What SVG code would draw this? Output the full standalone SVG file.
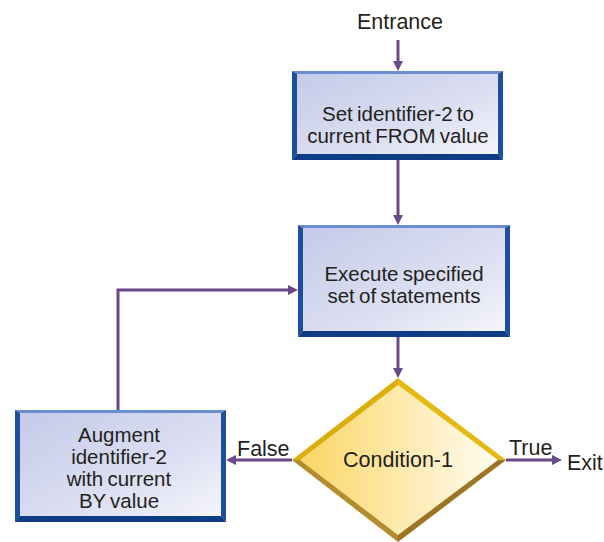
<svg xmlns="http://www.w3.org/2000/svg" width="604" height="542" viewBox="0 0 604 542">
<defs>
<linearGradient id="boxg" x1="0" y1="0" x2="1" y2="1">
<stop offset="0" stop-color="#c3c9e8"/>
<stop offset="0.6" stop-color="#dde0f2"/>
<stop offset="1" stop-color="#f7f7fc"/>
</linearGradient>
<linearGradient id="diag" x1="0" y1="0" x2="1" y2="0">
<stop offset="0" stop-color="#fbd665"/>
<stop offset="1" stop-color="#fffcf2"/>
</linearGradient>
<marker id="ah" markerUnits="userSpaceOnUse" markerWidth="10" markerHeight="10" refX="2" refY="5" orient="auto">
<path d="M0,0 L10,5 L0,10 z" fill="#6a4a86"/>
</marker>
</defs>
<style>
.t{font-family:"Liberation Sans",Arial,sans-serif;font-size:20.5px;fill:#231f20;text-anchor:middle;word-spacing:-1.5px}
.lbl{font-family:"Liberation Sans",Arial,sans-serif;font-size:21.5px;fill:#231f20}
.c{fill:none;stroke:#6a4a86;stroke-width:3;marker-end:url(#ah)}
.top{fill:#6a8fd0}
.side{fill:#1d4f9c}
.bot{fill:#0e3d85}
.fill{fill:url(#boxg)}
</style>
<rect width="604" height="542" fill="#ffffff"/>

<g id="connectors">
<path class="c" d="M398,40 V63"/>
<path class="c" d="M398,160 V217"/>
<path class="c" d="M398,337 V370"/>
<path class="c" d="M118,410 V290 H290"/>
<path class="c" d="M292,460 H234"/>
<path class="c" d="M506,460 H554"/>
</g>

<g id="entrance">
<text class="lbl" x="400" y="29" text-anchor="middle">Entrance</text>
</g>

<g id="box1">
<rect class="fill" x="292" y="71" width="211" height="89"/>
<polygon class="top" points="292,71 503,71 498,74 297,74"/>
<polygon class="side" points="292,71 297,74 297,154 292,160"/>
<polygon class="side" points="503,71 498,74 498,154 503,160"/>
<polygon class="bot" points="292,160 297,154 498,154 503,160"/>
<text class="t" x="398" y="121">Set identifier-2 to</text>
<text class="t" x="398" y="143">current FROM value</text>
</g>

<g id="box2">
<rect class="fill" x="298" y="225" width="212" height="112"/>
<polygon class="top" points="298,225 510,225 505,228 303,228"/>
<polygon class="side" points="298,225 303,228 303,331 298,337"/>
<polygon class="side" points="510,225 505,228 505,331 510,337"/>
<polygon class="bot" points="298,337 303,331 505,331 510,337"/>
<text class="t" x="404" y="281">Execute specified</text>
<text class="t" x="404" y="303">set of statements</text>
</g>

<g id="box3">
<rect class="fill" x="15" y="410" width="211" height="112"/>
<polygon class="top" points="15,410 226,410 221,413 20,413"/>
<polygon class="side" points="15,410 20,413 20,516 15,522"/>
<polygon class="side" points="226,410 221,413 221,516 226,522"/>
<polygon class="bot" points="15,522 20,516 221,516 226,522"/>
<text class="t" x="119" y="442">Augment</text>
<text class="t" x="119" y="464">identifier-2</text>
<text class="t" x="119" y="486">with current</text>
<text class="t" x="119" y="508">BY value</text>
</g>

<g id="condition">
<polygon points="398,385 498,460 398,535 300,460" fill="url(#diag)"/>
<polygon points="292,460 398,378 398,385 300,460" fill="#dcae0a"/>
<polygon points="398,378 506,460 498,460 398,385" fill="#e6b910"/>
<polygon points="506,460 398,542 398,535 498,460" fill="#9c7424"/>
<polygon points="292,460 300,460 398,535 398,542" fill="#b38c2c"/>
<text class="lbl" x="398" y="467" text-anchor="middle">Condition-1</text>
</g>

<g id="labels">
<text class="lbl" x="237" y="456">False</text>
<text class="lbl" x="509" y="455">True</text>
<text class="lbl" x="567" y="470">Exit</text>
</g>
</svg>
